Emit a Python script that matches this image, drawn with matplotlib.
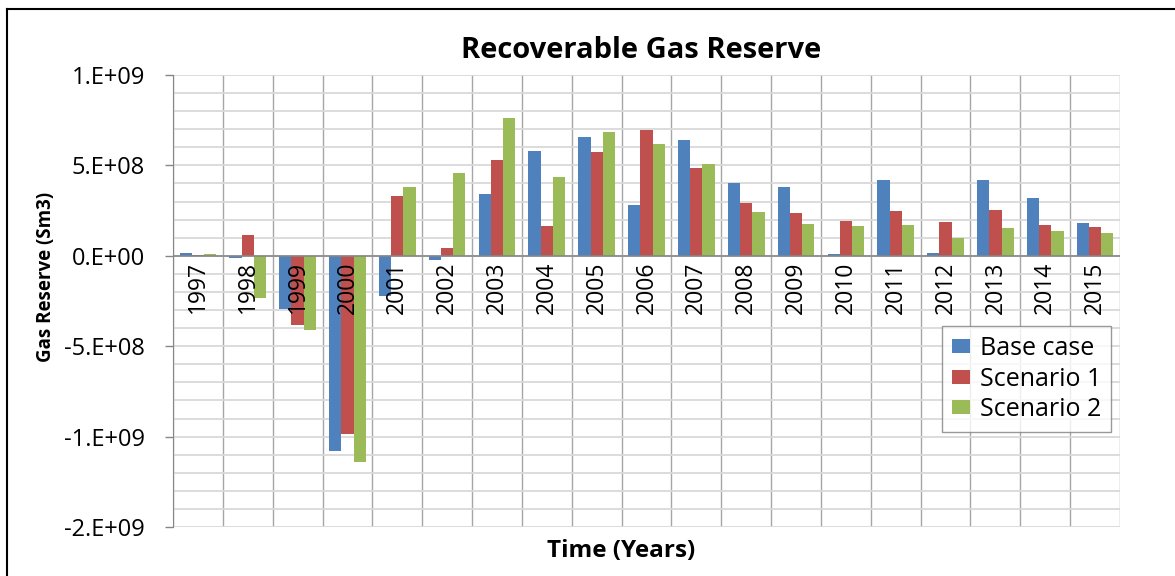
import matplotlib
matplotlib.use("Agg")
import matplotlib.pyplot as plt
from matplotlib.lines import Line2D
from matplotlib.patches import Patch
from matplotlib.ticker import FuncFormatter, MultipleLocator
import numpy as np

plt.rcParams['font.family'] = ['Open Sans', 'DejaVu Sans']

years = ['1997', '1998', '1999', '2000', '2001', '2002', '2003', '2004', '2005', '2006',
         '2007', '2008', '2009', '2010', '2011', '2012', '2013', '2014', '2015']
base_case = [0.13e8, -0.13e8, -2.92e8, -10.81e8, -2.25e8, -0.24e8, 3.41e8, 5.79e8, 6.59e8, 2.82e8,
             6.38e8, 4.04e8, 3.78e8, 0.09e8, 4.17e8, 0.17e8, 4.21e8, 3.17e8, 1.79e8]
scenario_1 = [0.07e8, 1.13e8, -3.82e8, -9.83e8, 3.30e8, 0.41e8, 5.28e8, 1.64e8, 5.76e8, 6.96e8,
              4.83e8, 2.93e8, 2.34e8, 1.92e8, 2.49e8, 1.85e8, 2.53e8, 1.72e8, 1.62e8]
scenario_2 = [0.09e8, -2.32e8, -4.08e8, -11.40e8, 3.78e8, 4.59e8, 7.60e8, 4.34e8, 6.83e8, 6.16e8,
              5.06e8, 2.40e8, 1.75e8, 1.64e8, 1.72e8, 1.00e8, 1.55e8, 1.38e8, 1.24e8]
series_names = ['Base case', 'Scenario 1', 'Scenario 2']
colors = ['#4F81BD', '#C0504D', '#9BBB59']

W, H = 1175, 576
fig = plt.figure(figsize=(W / 100, H / 100), dpi=100)
ax = fig.add_axes([173 / W, 1 - 527 / H, (1120 - 173) / W, (527 - 75) / H])

x = np.arange(len(years))
bw = 0.245
for j, (vals, c) in enumerate(zip([base_case, scenario_1, scenario_2], colors)):
    ax.bar(x + (j - 1) * bw, vals, width=bw, color=c, zorder=3)

ax.set_xlim(-0.5, len(years) - 0.5)
ax.set_ylim(-1.5e9, 1.0e9)

# gridlines: horizontal every 1e8, vertical at category boundaries
ax.yaxis.set_major_locator(MultipleLocator(5e8))
ax.yaxis.set_minor_locator(MultipleLocator(1e8))
ax.set_xticks(np.arange(-0.5, len(years)), minor=True)
ax.set_xticks([])
ax.grid(which='both', axis='y', color='#d9d9d9', linewidth=1.3, zorder=0)
ax.grid(which='minor', axis='x', color='#a6a6a6', linewidth=1.0, zorder=0)
ax.set_axisbelow(True)
ax.tick_params(axis='x', which='both', length=0)
ax.tick_params(axis='y', which='minor', length=0)
ax.tick_params(axis='y', which='major', direction='out', length=6, color='#868686',
               width=1, pad=14, labelsize=17)

ax.yaxis.set_major_formatter(FuncFormatter(lambda v, p: format(v, '#.0E')))

for side in ['top', 'right', 'bottom']:
    ax.spines[side].set_visible(False)
ax.spines['left'].set_color('#868686')
ax.axhline(0, color='#868686', linewidth=1.2, zorder=4)

# category labels sit just under the zero line
for xi, yr in zip(x, years):
    ax.annotate(yr, xy=(xi, 0), xytext=(0, -4), textcoords='offset points',
                rotation=90, ha='center', va='top', fontsize=16.5, zorder=5)

fig.text(641 / W, 1 - 50 / H, 'Recoverable Gas Reserve', ha='center', va='center',
         fontsize=21, fontweight='bold')
fig.text(621 / W, 1 - 551 / H, 'Time (Years)', ha='center', va='center',
         fontsize=17.5, fontweight='bold')
fig.text(46 / W, 1 - 277 / H, 'Gas Reserve (Sm3)', ha='center', va='center',
         rotation=90, fontsize=13.5, fontweight='bold')

handles = [Patch(facecolor=c, edgecolor='none') for c in colors]
leg = fig.legend(handles, series_names, loc='upper left',
                 bbox_to_anchor=(942 / W, 1 - 326 / H), borderaxespad=0,
                 fontsize=18, frameon=True, fancybox=False, edgecolor='#808080',
                 handlelength=0.7, handleheight=0.5, handletextpad=0.4,
                 labelspacing=0.22, borderpad=0.4)
leg.get_frame().set_linewidth(1.0)

# outer chart border (top and left)
fig.add_artist(Line2D([7 / W, 1], [1 - 9 / H, 1 - 9 / H], color='black', linewidth=1.5))
fig.add_artist(Line2D([7 / W, 7 / W], [0, 1 - 9 / H], color='black', linewidth=1.5))

fig.savefig('out.png', dpi=100, facecolor='white')
